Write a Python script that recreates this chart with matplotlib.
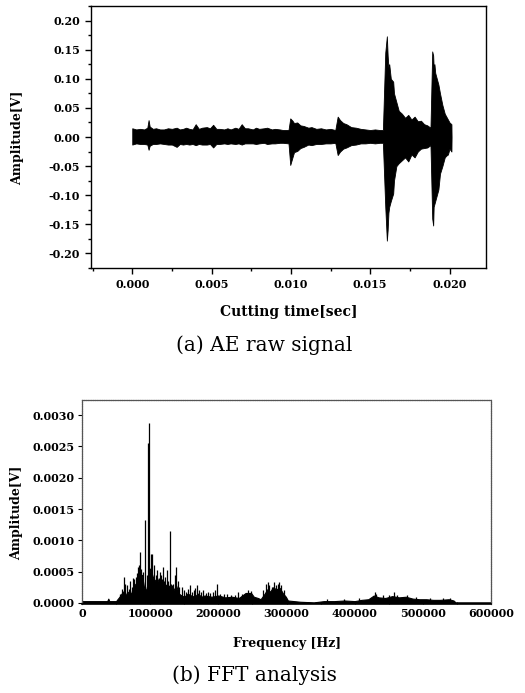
import matplotlib
matplotlib.use("Agg")
import matplotlib.pyplot as plt
from matplotlib.ticker import MultipleLocator, FormatStrFormatter

plt.rcParams["axes.unicode_minus"] = False

# ---------------- (a) AE raw signal: amplitude envelope ----------------
sig_t = [0.0000, 0.00025, 0.0005, 0.00075, 0.00095, 0.00103, 0.0011, 0.0013, 0.0015, 0.00175,
         0.0020, 0.00225, 0.0025, 0.0028, 0.0030, 0.0032, 0.0034, 0.0036, 0.0038, 0.0040,
         0.0042, 0.0044, 0.0047, 0.0049, 0.0051, 0.0053, 0.0055, 0.0058, 0.0060, 0.0062,
         0.0065, 0.0067, 0.0069, 0.0071, 0.0073, 0.0076, 0.0078, 0.0080, 0.0083, 0.0085,
         0.0088, 0.0090, 0.0093, 0.0095, 0.00985,
         0.00996, 0.0101, 0.0102, 0.0104, 0.0106, 0.0108, 0.0111, 0.0113, 0.0116, 0.0119,
         0.0122, 0.0125, 0.0128,
         0.01295, 0.0131, 0.0133, 0.0135, 0.0138, 0.0141, 0.0144, 0.0147, 0.0150, 0.0153,
         0.0156, 0.0158,
         0.01595, 0.01605, 0.0161, 0.01615, 0.0162, 0.0163, 0.01645, 0.0165, 0.01665, 0.0168,
         0.0170, 0.0172, 0.0174, 0.0176, 0.0178, 0.0180, 0.0182, 0.0184, 0.0186, 0.0188,
         0.01891, 0.01897, 0.0190, 0.01905, 0.0191, 0.0193, 0.0194, 0.01955, 0.0197, 0.0198,
         0.0199, 0.0200, 0.02012, 0.02013]
sig_upper = [0.015, 0.013, 0.014, 0.013, 0.016, 0.029, 0.018, 0.014, 0.015, 0.013,
             0.013, 0.015, 0.014, 0.016, 0.013, 0.014, 0.016, 0.014, 0.013, 0.022,
             0.014, 0.016, 0.017, 0.015, 0.021, 0.014, 0.014, 0.013, 0.015, 0.013,
             0.016, 0.014, 0.022, 0.015, 0.015, 0.013, 0.016, 0.014, 0.015, 0.016,
             0.013, 0.014, 0.013, 0.012, 0.012,
             0.032, 0.028, 0.024, 0.025, 0.020, 0.019, 0.016, 0.017, 0.014, 0.015,
             0.013, 0.014, 0.012,
             0.035, 0.029, 0.024, 0.022, 0.017, 0.016, 0.014, 0.013, 0.012, 0.013,
             0.012, 0.012,
             0.145, 0.173, 0.140, 0.120, 0.125, 0.100, 0.095, 0.075, 0.060, 0.045,
             0.040, 0.033, 0.038, 0.030, 0.035, 0.027, 0.028, 0.022, 0.020, 0.016,
             0.147, 0.140, 0.120, 0.125, 0.110, 0.090, 0.075, 0.055, 0.040, 0.035,
             0.030, 0.025, 0.022, 0.0]
sig_lower = [-0.013, -0.011, -0.012, -0.012, -0.013, -0.022, -0.015, -0.012, -0.012, -0.011,
             -0.012, -0.013, -0.013, -0.017, -0.012, -0.013, -0.012, -0.013, -0.012, -0.014,
             -0.012, -0.013, -0.013, -0.012, -0.018, -0.012, -0.012, -0.011, -0.012, -0.011,
             -0.012, -0.011, -0.013, -0.011, -0.011, -0.011, -0.012, -0.011, -0.010, -0.012,
             -0.011, -0.011, -0.010, -0.010, -0.011,
             -0.048, -0.035, -0.026, -0.024, -0.019, -0.017, -0.013, -0.014, -0.012, -0.012,
             -0.011, -0.011, -0.010,
             -0.031, -0.025, -0.020, -0.018, -0.014, -0.013, -0.011, -0.011, -0.010, -0.011,
             -0.010, -0.010,
             -0.120, -0.178, -0.160, -0.130, -0.120, -0.110, -0.097, -0.075, -0.050, -0.045,
             -0.040, -0.035, -0.042, -0.030, -0.035, -0.025, -0.020, -0.019, -0.018, -0.014,
             -0.140, -0.152, -0.120, -0.115, -0.110, -0.090, -0.063, -0.050, -0.035, -0.032,
             -0.030, -0.020, -0.025, 0.0]

# ---------------- (b) FFT analysis: spectrum body + narrow peaks ----------------
fft_freq = [0, 30000, 37000, 38600, 40000, 50000, 52000, 55000, 58000, 62000, 65000, 68000,
            72000, 75000, 78000, 82000, 85000, 88000, 91000, 94000, 97000, 100000, 103000,
            106000, 110000, 114000, 118000, 122000, 126000, 130000, 134000, 138000, 142000,
            146000, 150000, 155000, 160000, 165000, 170000, 175000, 180000, 190000, 200000,
            210000, 220000, 230000, 235000, 240000, 248000, 252000, 258000, 262000, 268000,
            272000, 276000, 280000, 285000, 290000, 295000, 299000, 302000, 320000, 340000,
            355000, 370000, 385000, 400000, 410000, 420000, 428000, 435000, 445000, 455000,
            465000, 475000, 485000, 495000, 505000, 515000, 525000, 538000, 545000, 548000,
            600000]
fft_amp = [0.00003, 0.00003, 0.00003, 0.00007, 0.00003, 0.00003, 0.00006, 0.00010, 0.00015,
           0.00020, 0.00012, 0.00018, 0.00015, 0.00025, 0.00030, 0.00035, 0.00040, 0.00045,
           0.00025, 0.00020, 0.00035, 0.00055, 0.00045, 0.00035, 0.00040, 0.00030, 0.00038,
           0.00030, 0.00025, 0.00030, 0.00020, 0.00028, 0.00015, 0.00012, 0.00010, 0.00015,
           0.00012, 0.00010, 0.00015, 0.00010, 0.00012, 0.00010, 0.00012, 0.00009, 0.00010,
           0.00008, 0.00012, 0.00016, 0.00016, 0.00010, 0.00008, 0.00006, 0.00015, 0.00022,
           0.00018, 0.00025, 0.00022, 0.00024, 0.00015, 0.00010, 0.00004, 0.00002, 0.00001,
           0.00003, 0.00003, 0.00004, 0.00003, 0.00005, 0.00006, 0.00012, 0.00009, 0.00008,
           0.00011, 0.00009, 0.00010, 0.00007, 0.00006, 0.00006, 0.00005, 0.00005, 0.00006,
           0.00004, 0.00001, 0.00001]
peak_freq = [56000, 59000, 61600, 63500, 66000, 68500, 71000, 73500, 75300, 77000, 79000,
             80500, 82000, 84000, 85500, 87000, 89000, 92400, 95000, 96800, 98300, 100500,
             102200, 106000, 108000, 110500, 112500, 114400, 116500, 119300, 121500, 124200,
             126500, 129400, 131500, 134000, 136500, 138500, 140500, 143000, 146000, 149000,
             152000, 155000, 158400, 161000, 164000, 166500, 169200, 172000, 175000, 178000,
             182000, 185000, 188000, 192000, 195000, 198500, 203000, 208000, 213000, 218000,
             224000, 229000, 234000, 244000, 248000, 266000, 270000, 272500, 275000, 278000,
             281000, 284000, 287000, 289500, 292000, 296000, 360000, 384000, 407000, 430000,
             432000, 441000, 451000, 458000, 462000, 477000, 490000, 510000, 530000, 540000]
peak_amp = [0.00015, 0.00022, 0.00042, 0.00030, 0.00028, 0.00022, 0.00035, 0.00025, 0.00040,
            0.00038, 0.00042, 0.00048, 0.00058, 0.00060, 0.00082, 0.00055, 0.00050, 0.00132,
            0.00045, 0.00255, 0.00287, 0.00078, 0.00079, 0.00060, 0.00045, 0.00053, 0.00040,
            0.00050, 0.00045, 0.00058, 0.00042, 0.00052, 0.00035, 0.00115, 0.00028, 0.00030,
            0.00045, 0.00058, 0.00035, 0.00025, 0.00026, 0.00020, 0.00018, 0.00022, 0.00029,
            0.00018, 0.00020, 0.00024, 0.00029, 0.00020, 0.00018, 0.00020, 0.00016, 0.00018,
            0.00016, 0.00018, 0.00020, 0.00031, 0.00015, 0.00014, 0.00015, 0.00013, 0.00012,
            0.00018, 0.00014, 0.00020, 0.00019, 0.00020, 0.00030, 0.00034, 0.00028, 0.00025,
            0.00034, 0.00028, 0.00030, 0.00033, 0.00028, 0.00020, 0.00006, 0.00006, 0.00008,
            0.00017, 0.00015, 0.00012, 0.00013, 0.00018, 0.00012, 0.00013, 0.00010, 0.00008,
            0.00008, 0.00008]

# ---------------- figure ----------------
W, H = 525, 693
fig = plt.figure(figsize=(W / 100, H / 100), dpi=100)


def rect(x0, y0, x1, y1):
    return [x0 / W, 1 - y1 / H, (x1 - x0) / W, (y1 - y0) / H]


tick_font = dict(family="DejaVu Serif", weight="bold", size=8)

# ---- top panel ----
ax1 = fig.add_axes(rect(91, 6, 486, 268))
ax1.fill_between(sig_t, sig_lower, sig_upper, facecolor="black", edgecolor="black", linewidth=0.6)
ax1.set_xlim(-0.0026, 0.0223)
ax1.set_ylim(-0.225, 0.225)
ax1.xaxis.set_major_locator(MultipleLocator(0.005))
ax1.xaxis.set_minor_locator(MultipleLocator(0.0025))
ax1.yaxis.set_major_locator(MultipleLocator(0.05))
ax1.yaxis.set_minor_locator(MultipleLocator(0.025))
ax1.xaxis.set_major_formatter(FormatStrFormatter("%.3f"))
ax1.yaxis.set_major_formatter(FormatStrFormatter("%.2f"))
ax1.tick_params(which="both", direction="out", top=False, right=False, width=1.0)
ax1.tick_params(which="major", length=4, pad=4)
ax1.tick_params(which="minor", length=2.5)
for lab in ax1.get_xticklabels() + ax1.get_yticklabels():
    lab.set_fontproperties(tick_font)
for s in ax1.spines.values():
    s.set_linewidth(1.0)

# ---- bottom panel ----
ax2 = fig.add_axes(rect(82, 400, 491, 604))
ax2.fill_between(fft_freq, 0, fft_amp, facecolor="black", edgecolor="black", linewidth=0.8)
ax2.vlines(peak_freq, 0, peak_amp, colors="black", linewidth=0.9)
ax2.set_xlim(0, 600000)
ax2.set_ylim(-0.000016, 0.00324)
ax2.xaxis.set_major_locator(MultipleLocator(100000))
ax2.xaxis.set_minor_locator(MultipleLocator(50000))
ax2.yaxis.set_major_locator(MultipleLocator(0.0005))
ax2.xaxis.set_major_formatter(FormatStrFormatter("%d"))
ax2.yaxis.set_major_formatter(FormatStrFormatter("%.4f"))
ax2.tick_params(axis="y", which="major", direction="out", length=3, pad=2.5, width=0.8)
ax2.tick_params(axis="x", which="both", direction="in", length=2.5, pad=3, width=0.8,
                top=False)
ax2.tick_params(axis="x", which="minor", length=1.5)
for lab in ax2.get_xticklabels() + ax2.get_yticklabels():
    lab.set_fontproperties(tick_font)
for k in ["top", "right", "left"]:
    ax2.spines[k].set_linewidth(0.9)
    ax2.spines[k].set_color("#555555")
    ax2.spines[k].set_linestyle((0, (1.2, 0.6)))
ax2.spines["bottom"].set_linewidth(1.2)
ax2.spines["bottom"].set_color("black")


def ftext(x, y, s, **kw):
    fig.text(x / W, 1 - y / H, s, ha="center", va="center", **kw)


label_font = dict(family="DejaVu Serif", weight="bold")
ftext(18, 138, "Amplitude[V]", rotation=90, size=9, **label_font)
ftext(289, 312, "Cutting time[sec]", size=10, **label_font)
ftext(264, 345, "(a) AE raw signal", size=14.5, family="DejaVu Serif")

ftext(17, 513, "Amplitude[V]", rotation=90, size=9, **label_font)
ftext(287, 644, "Frequency [Hz]", size=9, **label_font)
ftext(254, 675, "(b) FFT analysis", size=14.5, family="DejaVu Serif")

fig.savefig("out.png", dpi=100, facecolor="white")
